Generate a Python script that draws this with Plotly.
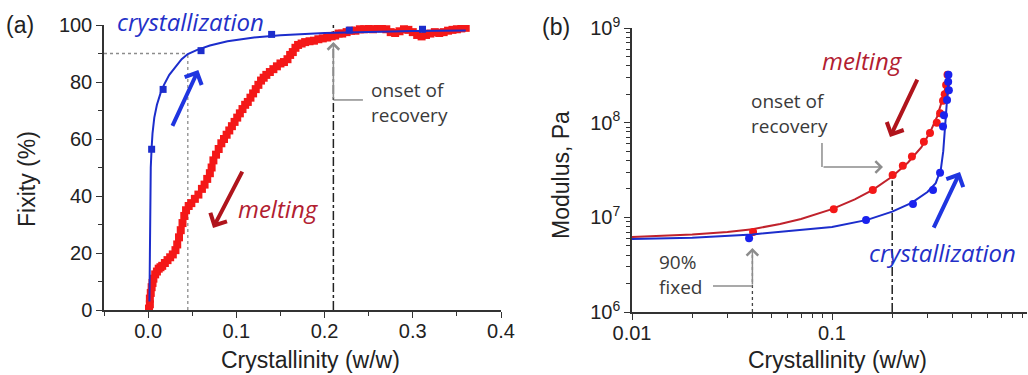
import plotly.graph_objects as go

# ---------------- Panel (a) data ----------------
melt_x = [0.001, 0.002, 0.002, 0.003, 0.004, 0.005, 0.006, 0.008, 0.010, 0.012,
          0.014, 0.016, 0.019, 0.022, 0.025, 0.028, 0.031, 0.033, 0.035, 0.037,
          0.039, 0.041, 0.043, 0.046, 0.049, 0.053, 0.057, 0.061, 0.064, 0.067,
          0.070, 0.072, 0.074, 0.077, 0.080, 0.083, 0.086, 0.089, 0.092, 0.095,
          0.098, 0.101, 0.104, 0.107, 0.110, 0.113, 0.116, 0.119, 0.122, 0.125,
          0.128, 0.131, 0.134, 0.138, 0.142, 0.146, 0.150, 0.154, 0.158, 0.161,
          0.164, 0.167, 0.170, 0.174, 0.178, 0.183, 0.188, 0.193, 0.198, 0.203,
          0.208, 0.212, 0.216, 0.220, 0.225, 0.230, 0.235, 0.240, 0.245, 0.250,
          0.255, 0.260, 0.265, 0.270, 0.275, 0.280, 0.285, 0.290, 0.295, 0.300,
          0.305, 0.310, 0.315, 0.320, 0.325, 0.330, 0.335, 0.340, 0.345, 0.350,
          0.355, 0.360]
melt_y = [0.5, 2, 4, 6, 8, 9.5, 11, 12.5, 13.5, 14.5,
          15, 15.5, 16.5, 17.5, 18.5, 19.5, 21, 23, 25.5, 28,
          30.5, 33, 35, 36.5, 37.5, 39, 40.5, 42.5, 44, 46,
          48, 50, 52.5, 54.5, 56.5, 58.5, 60, 61.5, 63, 64.5,
          66, 67.5, 69, 70.5, 72, 73, 74.5, 76, 77.5, 79,
          80.5, 81.5, 82.5, 83.5, 84.5, 85.5, 86.5, 87, 88, 89.5,
          90.5, 92, 93, 93.5, 94, 94.3, 94.5, 95, 95.3, 95.6,
          96, 96.3, 97, 97, 97.5, 98, 98, 98.5, 98.5, 98.8,
          98.5, 99, 98.8, 98.5, 97.5, 97.2, 97.8, 98.5, 98.3, 97.5,
          96.5, 96, 96.5, 97, 97.5, 97.2, 97.5, 98, 98.3, 98.5,
          98.8, 99]

cryst_pts_x = [0.004, 0.017, 0.060, 0.140, 0.228, 0.311]
cryst_pts_y = [56.4, 77.4, 91.0, 96.7, 98.2, 98.5]

cryst_fit_x = [0.0015, 0.002, 0.0025, 0.003, 0.004, 0.005, 0.007, 0.010, 0.014,
               0.018, 0.024, 0.030, 0.038, 0.045, 0.055, 0.070, 0.090, 0.120,
               0.150, 0.200, 0.250, 0.300, 0.360]
cryst_fit_y = [3, 20, 40, 50, 57, 62, 67.5, 72, 76, 79, 82.5, 85, 88, 89.8,
               91.2, 92.8, 94.3, 95.6, 96.4, 97.2, 97.6, 97.9, 98.1]

a_xticks = [0.0, 0.1, 0.2, 0.3, 0.4]
a_xticktext = ["0.0", "0.1", "0.2", "0.3", "0.4"]
a_yticks = [0, 20, 40, 60, 80, 100]

fixed90_x = 0.045
fixed90_y = 90
onset_a_x = 0.21

# ---------------- Panel (b) data ----------------
b_melt_pts_x = [0.0403, 0.102, 0.160, 0.201, 0.226, 0.251, 0.288, 0.309, 0.334,
                0.347, 0.359, 0.366, 0.372, 0.378]
b_melt_pts_y = [7.0e6, 1.22e7, 1.94e7, 2.8e7, 3.5e7, 4.4e7, 6.3e7, 7.8e7, 1.0e8,
                1.26e8, 1.7e8, 2.0e8, 2.5e8, 3.2e8]
b_cryst_pts_x = [0.0385, 0.148, 0.254, 0.320, 0.347, 0.359, 0.363, 0.376, 0.384,
                 0.381, 0.382]
b_cryst_pts_y = [6.0e6, 9.4e6, 1.38e7, 1.94e7, 2.95e7, 9.1e7, 1.2e8, 1.74e8,
                 2.2e8, 2.7e8, 3.2e8]

b_melt_fit_x = [0.010, 0.015, 0.020, 0.030, 0.040, 0.055, 0.070, 0.100, 0.130,
                0.160, 0.200, 0.240, 0.280, 0.310, 0.335, 0.355, 0.370, 0.378]
b_melt_fit_y = [6.2e6, 6.4e6, 6.6e6, 7.0e6, 7.5e6, 8.5e6, 9.6e6, 1.22e7, 1.55e7,
                1.95e7, 2.7e7, 3.8e7, 5.5e7, 8.0e7, 1.15e8, 1.7e8, 2.4e8, 3.2e8]
b_cryst_fit_x = [0.010, 0.020, 0.040, 0.060, 0.100, 0.150, 0.200, 0.250, 0.300,
                 0.330, 0.350, 0.360, 0.366, 0.372, 0.378, 0.382, 0.384]
b_cryst_fit_y = [5.9e6, 6.1e6, 6.6e6, 7.2e6, 7.9e6, 9.4e6, 1.15e7, 1.42e7, 1.85e7,
                 2.3e7, 3.2e7, 5.0e7, 8.0e7, 1.2e8, 1.8e8, 2.6e8, 3.2e8]

b_xticks = [0.01, 0.1, 1]
b_xticktext = ["0.01", "0.1", "1"]
b_xminor = [0.02, 0.03, 0.04, 0.05, 0.06, 0.07, 0.08, 0.09,
            0.2, 0.3, 0.4, 0.5, 0.6, 0.7, 0.8, 0.9]
b_yticks = [1e6, 1e7, 1e8, 1e9]
b_yticktext = ["10<sup>6</sup>", "10<sup>7</sup>", "10<sup>8</sup>", "10<sup>9</sup>"]
b_yminor = [m * 10 ** e for e in (6, 7, 8) for m in (2, 3, 4, 5, 6, 7, 8, 9)]

onset_b_x = 0.2
onset_b_top = 2.45e7
fixed_b_x = 0.04
fixed_b_top = 4.8e6

# ---------------- styles ----------------
BLUE = "#1c2dcc"
RED = "#f41818"
GRAY = "#8c8c8c"
AX = "#333333"
TICKFONT = dict(family="Liberation Sans, Arial", size=20, color="#222")
TITLEFONT = dict(family="Liberation Sans, Arial", size=23, color="#222")

fig = go.Figure()

# Panel (a) reference lines
fig.add_trace(go.Scatter(x=[-0.05, fixed90_x], y=[fixed90_y, fixed90_y], mode="lines",
                         line=dict(color=GRAY, width=1.3, dash="dot"), xaxis="x", yaxis="y"))
fig.add_trace(go.Scatter(x=[fixed90_x, fixed90_x], y=[0, fixed90_y], mode="lines",
                         line=dict(color=GRAY, width=1.3, dash="dot"), xaxis="x", yaxis="y"))
fig.add_trace(go.Scatter(x=[onset_a_x, onset_a_x], y=[0, 100], mode="lines",
                         line=dict(color="#222", width=1.5, dash="dashdot"), xaxis="x", yaxis="y"))
fig.add_trace(go.Scatter(x=[onset_a_x, 0.2435], y=[73.7, 73.7], mode="lines",
                         line=dict(color=GRAY, width=1.5), xaxis="x", yaxis="y"))

# Panel (a) data
fig.add_trace(go.Scatter(x=melt_x, y=melt_y, mode="markers",
                         marker=dict(symbol="square", size=8, color=RED),
                         xaxis="x", yaxis="y"))
fig.add_trace(go.Scatter(x=cryst_fit_x, y=cryst_fit_y, mode="lines",
                         line=dict(color=BLUE, width=2), xaxis="x", yaxis="y"))
fig.add_trace(go.Scatter(x=cryst_pts_x, y=cryst_pts_y, mode="markers",
                         marker=dict(symbol="square", size=7, color=BLUE),
                         xaxis="x", yaxis="y"))

# Panel (b) reference lines
fig.add_trace(go.Scatter(x=[onset_b_x, onset_b_x], y=[1e6, onset_b_top], mode="lines",
                         line=dict(color="#222", width=1.5, dash="dashdot"), xaxis="x2", yaxis="y2"))
fig.add_trace(go.Scatter(x=[fixed_b_x, fixed_b_x], y=[1e6, fixed_b_top], mode="lines",
                         line=dict(color="#444", width=1.3, dash="dot"), xaxis="x2", yaxis="y2"))
fig.add_trace(go.Scatter(x=[0.0254, fixed_b_x], y=[1.88e6, 1.88e6], mode="lines",
                         line=dict(color=GRAY, width=1.5), xaxis="x2", yaxis="y2"))
fig.add_trace(go.Scatter(x=[0.0891, 0.0891], y=[6.1e7, 3.4e7], mode="lines",
                         line=dict(color=GRAY, width=1.5), xaxis="x2", yaxis="y2"))

# Panel (b) data
fig.add_trace(go.Scatter(x=b_melt_fit_x, y=b_melt_fit_y, mode="lines",
                         line=dict(color="#c0222c", width=2), xaxis="x2", yaxis="y2"))
fig.add_trace(go.Scatter(x=b_melt_pts_x, y=b_melt_pts_y, mode="markers",
                         marker=dict(symbol="circle", size=8, color=RED),
                         xaxis="x2", yaxis="y2"))
fig.add_trace(go.Scatter(x=b_cryst_fit_x, y=b_cryst_fit_y, mode="lines",
                         line=dict(color=BLUE, width=2), xaxis="x2", yaxis="y2"))
fig.add_trace(go.Scatter(x=b_cryst_pts_x, y=b_cryst_pts_y, mode="markers",
                         marker=dict(symbol="circle", size=8, color="#1a22ee"),
                         xaxis="x2", yaxis="y2"))

common_axis = dict(showline=True, linecolor=AX, linewidth=1.5, ticks="outside",
                   ticklen=6, tickwidth=1.3, tickcolor=AX, showgrid=False,
                   zeroline=False, tickfont=TICKFONT, automargin=False)
right_axis = dict(showline=True, linecolor=AX, linewidth=1.5, ticks="inside", ticklen=6,
                  tickcolor=AX, showticklabels=False, showgrid=False, zeroline=False,
                  automargin=False, side="right")

fig.update_layout(
    width=1028, height=375, margin=dict(l=0, r=0, t=0, b=0, autoexpand=False),
    paper_bgcolor="white", plot_bgcolor="white", showlegend=False,
    xaxis=dict(common_axis, domain=[104 / 1028, 501 / 1028], range=[-0.05, 0.4],
               tickvals=a_xticks, ticktext=a_xticktext, anchor="y", ticklabelstandoff=-4,
               minor=dict(dtick=0.05, tick0=0, ticks="outside", ticklen=4, tickcolor=AX)),
    yaxis=dict(common_axis, domain=[65 / 375, 350 / 375], range=[0, 100],
               tickvals=a_yticks, anchor="x",
               minor=dict(dtick=10, tick0=0, ticks="outside", ticklen=4, tickcolor=AX)),
    yaxis3=dict(right_axis, overlaying="y", anchor="x", range=[0, 100],
                tickvals=a_yticks,
                minor=dict(dtick=10, tick0=0, ticks="inside", ticklen=4, tickcolor=AX)),
    xaxis2=dict(common_axis, type="log", domain=[632 / 1028, 1027 / 1028],
                range=[-2, -0.025], tickvals=b_xticks, ticktext=b_xticktext, anchor="y2",
                ticklabelstandoff=-4,
                minor=dict(tickvals=b_xminor, ticks="outside", ticklen=4, tickcolor=AX)),
    yaxis2=dict(common_axis, type="log", domain=[63 / 375, 347 / 375], range=[6, 9],
                tickvals=b_yticks, ticktext=b_yticktext, anchor="x2",
                minor=dict(tickvals=b_yminor, ticks="outside", ticklen=4, tickcolor=AX)),
    yaxis4=dict(right_axis, overlaying="y2", anchor="x2", type="log", range=[6, 9],
                tickvals=b_yticks,
                minor=dict(tickvals=b_yminor, ticks="inside", ticklen=4, tickcolor=AX)),
)


def paper(text, px, py, font, angle=0, xanchor="center", align="center"):
    return dict(text=text, x=px / 1028, y=1 - py / 375, xref="paper", yref="paper",
                xanchor=xanchor, yanchor="middle", align=align, textangle=angle,
                showarrow=False, font=font)


ann_it = dict(family="Open Sans", size=24)
ann_txt = dict(family="Open Sans", size=19, color="#3a3a3a")
PANELFONT = dict(family="Liberation Sans, Arial", size=23, color="#222")
annotations = [
    # titles and panel labels
    paper("(a)", 20, 25, PANELFONT),
    paper("(b)", 556, 27, PANELFONT),
    paper("Fixity (%)", 27, 179, TITLEFONT, angle=-90),
    paper("Crystallinity (w/w)", 310, 360, TITLEFONT),
    paper("Modulus, Pa", 561, 175, TITLEFONT, angle=-90),
    paper("Crystallinity (w/w)", 837, 360, TITLEFONT),
    # panel (a) labels
    paper("<i>crystallization</i>", 190, 22, dict(ann_it, color="#2330c8")),
    paper("<i>melting</i>", 278, 208, dict(ann_it, color="#b22030")),
    paper("onset of<br>recovery", 369, 103, ann_txt, xanchor="left", align="left"),
    # panel (b) labels
    paper("<i>melting</i>", 862, 60, dict(ann_it, color="#b22030")),
    paper("onset of<br>recovery", 749, 113, ann_txt, xanchor="left", align="left"),
    paper("90%<br>fixed", 657, 274, ann_txt, xanchor="left", align="left"),
    paper("<i>crystallization</i>", 942, 252, dict(ann_it, color="#2330c8")),
    # panel (a) arrows
    dict(text="", x=0.0569, y=84.2, ax=0.0268, ay=64.1, xref="x", yref="y",
         axref="x", ayref="y", showarrow=True, arrowhead=4, arrowsize=0.9,
         arrowwidth=4, arrowcolor="#1f35e0"),
    dict(text="", x=0.0736, y=28.8, ax=0.1076, ay=49.1, xref="x", yref="y",
         axref="x", ayref="y", showarrow=True, arrowhead=4, arrowsize=0.9,
         arrowwidth=4, arrowcolor="#b0141c"),
    dict(text="", x=onset_a_x, y=94, ax=onset_a_x, ay=73.7, xref="x", yref="y",
         axref="x", ayref="y", showarrow=True, arrowhead=4, arrowsize=1.5,
         arrowwidth=1.5, arrowcolor=GRAY),
    # panel (b) arrows (log coordinates)
    dict(text="", x=-0.71, y=7.848, ax=-0.57, ay=8.471, xref="x2", yref="y2",
         axref="x2", ayref="y2", showarrow=True, arrowhead=4, arrowsize=0.9,
         arrowwidth=4, arrowcolor="#b0141c"),
    dict(text="", x=-0.36, y=7.478, ax=-0.495, ay=6.876, xref="x2", yref="y2",
         axref="x2", ayref="y2", showarrow=True, arrowhead=4, arrowsize=0.9,
         arrowwidth=4, arrowcolor="#1f35e0"),
    dict(text="", x=-0.745, y=7.531, ax=-1.05, ay=7.531, xref="x2", yref="y2",
         axref="x2", ayref="y2", showarrow=True, arrowhead=4, arrowsize=1.5,
         arrowwidth=1.5, arrowcolor=GRAY),
    dict(text="", x=-1.398, y=6.676, ax=-1.398, ay=6.2745, xref="x2", yref="y2",
         axref="x2", ayref="y2", showarrow=True, arrowhead=4, arrowsize=1.5,
         arrowwidth=1.5, arrowcolor=GRAY),
]
fig.update_layout(annotations=annotations)

fig.write_html("out.html")
